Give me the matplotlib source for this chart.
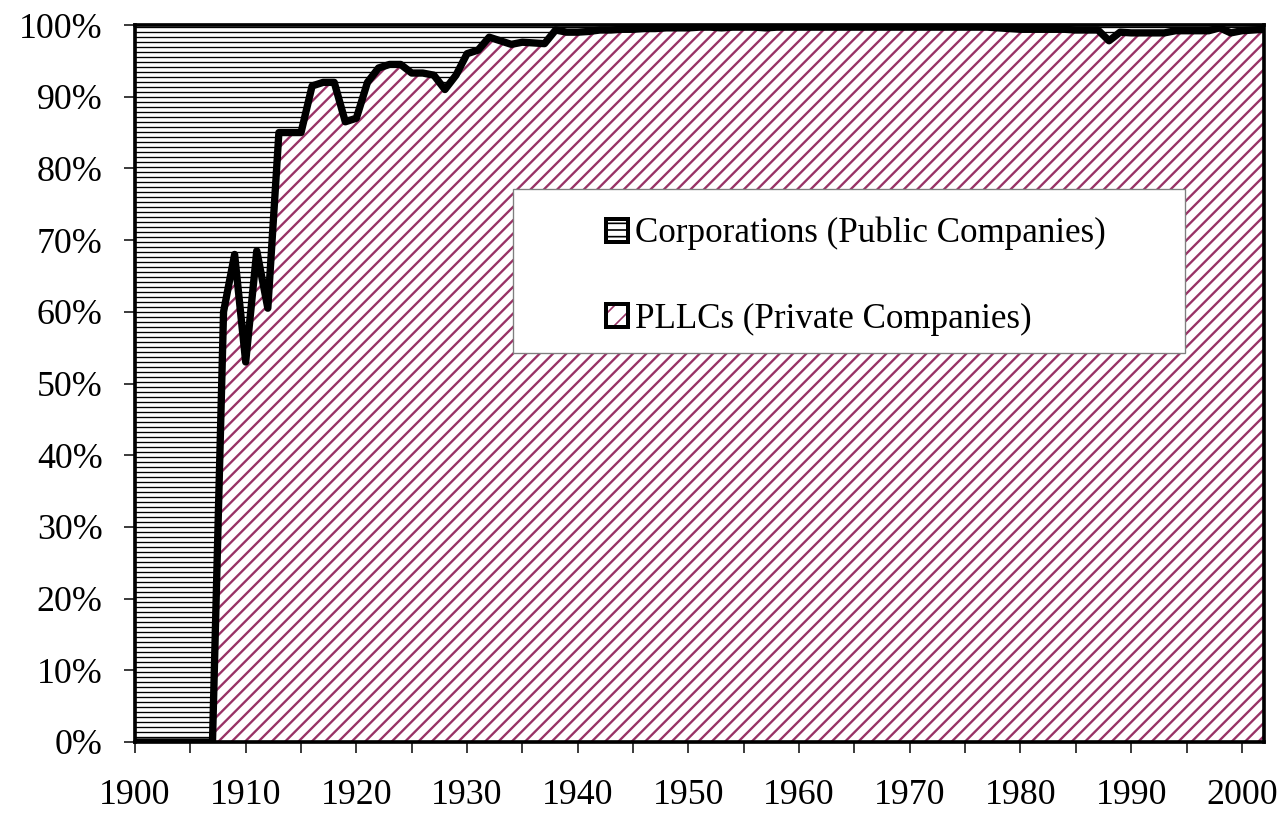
import numpy as np
import matplotlib
matplotlib.use('Agg')
import matplotlib.pyplot as plt
from matplotlib.patches import Patch, Rectangle
from matplotlib.legend_handler import HandlerTuple
from matplotlib.ticker import MultipleLocator

years = np.arange(1900, 2003)

# share of PLLCs (private companies), percent
pllc_share = [
    0, 0, 0, 0, 0, 0, 0, 0, 60, 68,                            # 1900s
    53, 68.5, 60.5, 85, 85, 85, 91.5, 92, 92, 86.5,            # 1910s
    87, 92, 94, 94.5, 94.5, 93.3, 93.3, 93, 91, 93,            # 1920s
    96, 96.5, 98.3, 97.8, 97.3, 97.6, 97.5, 97.4, 99.3, 99.0,  # 1930s
    99.0, 99.1, 99.3, 99.3, 99.4, 99.4, 99.5, 99.5, 99.6, 99.6,  # 1940s
    99.6, 99.7, 99.7, 99.6, 99.7, 99.7, 99.7, 99.6, 99.7, 99.7,  # 1950s
    99.7, 99.7, 99.7, 99.7, 99.7, 99.7, 99.7, 99.7, 99.7, 99.7,  # 1960s
    99.7, 99.7, 99.7, 99.7, 99.7, 99.7, 99.7, 99.7, 99.6, 99.5,  # 1970s
    99.4, 99.4, 99.4, 99.4, 99.4, 99.3, 99.3, 99.3, 97.8, 99.0,  # 1980s
    98.9, 98.9, 98.9, 98.9, 99.2, 99.2, 99.2, 99.2, 99.6, 98.9,  # 1990s
    99.2, 99.3, 99.4,                                          # 2000s
]
corp_share = [100 - v for v in pllc_share]

series_labels = ['Corporations (Public Companies)', 'PLLCs (Private Companies)']
x_tick_years = [1900, 1910, 1920, 1930, 1940, 1950, 1960, 1970, 1980, 1990, 2000]
y_ticks = [0, 10, 20, 30, 40, 50, 60, 70, 80, 90, 100]
y_tick_labels = ['0%', '10%', '20%', '30%', '40%', '50%', '60%', '70%', '80%', '90%', '100%']

corp_color = 'black'
pllc_color = '#993366'

plt.rcParams['font.family'] = ['Liberation Serif', 'DejaVu Serif']

W, H, DPI = 1287, 814, 120
fig = plt.figure(figsize=(W / DPI, H / DPI), dpi=DPI)
fig.patch.set_facecolor('white')
ax = fig.add_axes([135 / W, 1 - 742 / H, 1129 / W, 717 / H])

with plt.rc_context({'hatch.linewidth': 0.8, 'hatch.color': corp_color}):
    ax.fill_between(years, pllc_share, 100, facecolor='white', edgecolor=corp_color,
                    hatch='----', linewidth=0, zorder=1)
with plt.rc_context({'hatch.linewidth': 1.4, 'hatch.color': pllc_color}):
    ax.fill_between(years, 0, pllc_share, facecolor='white', edgecolor=pllc_color,
                    hatch='///', linewidth=0, zorder=1)

ax.plot(years, pllc_share, color='black', lw=4.4, solid_joinstyle='round', zorder=3)

ax.set_xlim(1900, 2002)
ax.set_ylim(0, 100)
ax.set_xticks(x_tick_years)
ax.set_xticklabels([str(y) for y in x_tick_years])
ax.xaxis.set_minor_locator(MultipleLocator(5))
ax.set_yticks(y_ticks)
ax.set_yticklabels(y_tick_labels)

ax.tick_params(axis='both', which='both', direction='out', length=6.5, width=0.9,
               color='black', labelsize=21.5)
ax.tick_params(axis='x', which='both', pad=16)
ax.tick_params(axis='y', pad=13)

for sp in ax.spines.values():
    sp.set_color('black')
    sp.set_linewidth(2.2)
    sp.set_zorder(4)

# legend box
ax.add_patch(Rectangle((513 / W, 1 - 353 / H), 672 / W, 164 / H, transform=fig.transFigure,
                       facecolor='white', edgecolor='#7f7f7f', lw=0.8, zorder=4.5))

with plt.rc_context({'hatch.linewidth': 1.2}):
    h_corp = (Patch(facecolor='white', edgecolor=corp_color, hatch='---', lw=0),
              Patch(facecolor='none', edgecolor='black', lw=2.4))
    h_pllc = (Patch(facecolor='white', edgecolor=pllc_color, hatch='//', lw=0),
              Patch(facecolor='none', edgecolor='black', lw=2.4))
leg = ax.legend([h_corp, h_pllc], series_labels,
                handler_map={tuple: HandlerTuple(ndivide=1, pad=0)},
                loc='upper left', bbox_to_anchor=(606 / W, 1 - 217 / H),
                bbox_transform=fig.transFigure, frameon=False, fontsize=21,
                borderpad=0, borderaxespad=0, labelspacing=1.5,
                handlelength=0.62, handleheight=0.62, handletextpad=0.2)
leg.set_zorder(6)

fig.savefig('out.png', dpi=DPI)
